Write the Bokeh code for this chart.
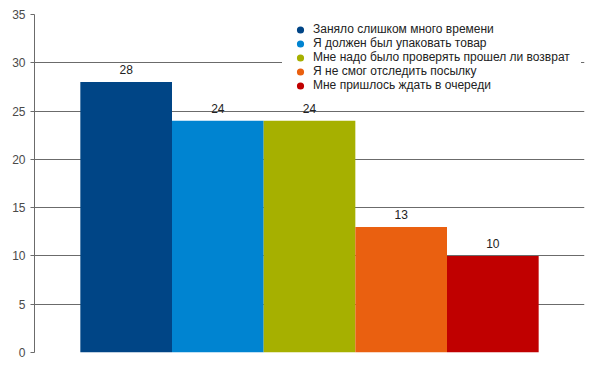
from bokeh.plotting import figure
from bokeh.models import ColumnDataSource, LabelSet, Range1d, SingleIntervalTicker
from bokeh.core.properties import value
from bokeh.embed import file_html
from bokeh.resources import INLINE

labels = ["Заняло слишком много времени", "Я должен был упаковать товар",
          "Мне надо было проверять прошел ли возврат", "Я не смог отследить посылку",
          "Мне пришлось ждать в очереди"]
values = [28, 24, 24, 13, 10]
colors = ["#004586", "#0084d1", "#a6b000", "#ea6010", "#c00000"]
positions = [0, 1, 2, 3, 4]

src = ColumnDataSource(dict(x=positions, y=values, color=colors, label=labels,
                            txt=[str(v) for v in values]))

p = figure(width=594, height=376, output_backend="svg", toolbar_location=None,
           x_range=Range1d(-1, 5), y_range=Range1d(0, 35),
           min_border_left=34, min_border_right=10, min_border_top=14, min_border_bottom=24)
p.outline_line_color = None
p.background_fill_color = "white"

p.vbar(x="x", top="y", width=1.0, bottom=0, source=src, fill_color="color", line_color=None)
p.scatter(x="x", y="y", size=0, source=src, fill_color="color", line_color="color",
          line_width=2, marker="circle", legend_field="label")

ls = LabelSet(x="x", y="y", text="txt", source=src, text_align="center",
              text_baseline="alphabetic", y_offset=8, text_font=value("Liberation Sans"),
              text_font_size=value("12px"), text_color=value("#222222"))
p.add_layout(ls)

p.xaxis.visible = False
p.xgrid.visible = False
p.ygrid.grid_line_color = "#6b6b6b"
p.ygrid.grid_line_width = 1
p.yaxis.ticker = SingleIntervalTicker(interval=5)
p.yaxis.axis_line_color = "#6b6b6b"
p.yaxis.major_tick_line_color = "#6b6b6b"
p.yaxis.major_tick_out = 4
p.yaxis.major_tick_in = 0
p.yaxis.minor_tick_line_color = None
p.yaxis.major_label_standoff = 5
p.yaxis.major_label_text_font = "Liberation Sans"
p.yaxis.major_label_text_font_size = "12px"
p.yaxis.major_label_text_color = "#4a4a4a"

lg = p.legend[0]
lg.location = (248, 249)
lg.background_fill_color = "white"
lg.background_fill_alpha = 1.0
lg.border_line_color = "white"
lg.border_line_width = 1
lg.padding = 10
lg.margin = 0
lg.glyph_width = 14
lg.glyph_height = 13
lg.label_height = 13
lg.spacing = 0
lg.label_standoff = 6
lg.label_text_font = "Liberation Sans"
lg.label_text_font_size = "12px"
lg.label_text_color = "#222222"

open("out.html", "w").write(file_html(p, INLINE))
